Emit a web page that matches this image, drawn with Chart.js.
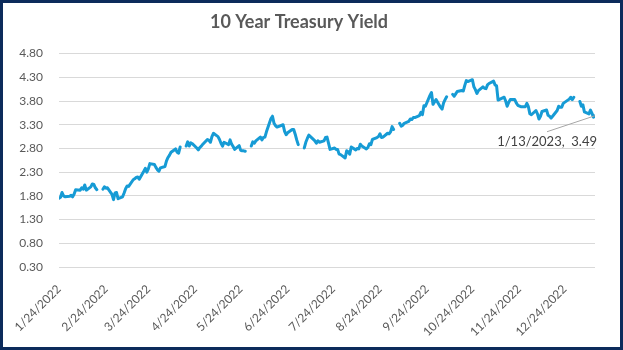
<!DOCTYPE html>
<html>
<head>
<meta charset="utf-8">
<title>10 Year Treasury Yield</title>
<script src="https://cdn.jsdelivr.net/npm/chart.js@4.4.1/dist/chart.umd.min.js"></script>
<style>
  body { margin: 0; background: #fff; }
  #frame { width: 623px; height: 350px; box-sizing: border-box; border: 3px solid #0c2b5b; background: #fff; }
  canvas { display: block; }
</style>
</head>
<body>
<div id="frame"><canvas id="yieldChart" width="617" height="344"></canvas></div>
<script>
const chartTitle = "10 Year Treasury Yield";

// one row per month: trading days and the closing 10y yield (null = market closed, leaves a gap)
const months = ["2022-01", "2022-02", "2022-03", "2022-04", "2022-05", "2022-06", "2022-07",
  "2022-08", "2022-09", "2022-10", "2022-11", "2022-12", "2023-01"];

const tradingDays = [
  [24, 25, 26, 27, 28, 31],
  [1, 2, 3, 4, 7, 8, 9, 10, 11, 14, 15, 16, 17, 18, 21, 22, 23, 24, 25, 28],
  [1, 2, 3, 4, 7, 8, 9, 10, 11, 14, 15, 16, 17, 18, 21, 22, 23, 24, 25, 28, 29, 30, 31],
  [1, 4, 5, 6, 7, 8, 11, 12, 13, 14, 15, 18, 19, 20, 21, 22, 25, 26, 27, 28, 29],
  [2, 3, 4, 5, 6, 9, 10, 11, 12, 13, 16, 17, 18, 19, 20, 23, 24, 25, 26, 27, 30, 31],
  [1, 2, 3, 6, 7, 8, 9, 10, 13, 14, 15, 16, 17, 21, 22, 23, 24, 27, 28, 29, 30],
  [1, 4, 5, 6, 7, 8, 11, 12, 13, 14, 15, 18, 19, 20, 21, 22, 25, 26, 27, 28, 29],
  [1, 2, 3, 4, 5, 8, 9, 10, 11, 12, 15, 16, 17, 18, 19, 22, 23, 24, 25, 26, 29, 30, 31],
  [1, 2, 5, 6, 7, 8, 9, 12, 13, 14, 15, 16, 19, 20, 21, 22, 23, 26, 27, 28, 29, 30],
  [3, 4, 5, 6, 7, 10, 11, 12, 13, 14, 17, 18, 19, 20, 21, 24, 25, 26, 27, 28, 31],
  [1, 2, 3, 4, 7, 8, 9, 10, 14, 15, 16, 17, 18, 21, 22, 23, 25, 28, 29, 30],
  [1, 2, 5, 6, 7, 8, 9, 12, 13, 14, 15, 16, 19, 20, 21, 22, 23, 27, 28, 29, 30],
  [2, 3, 4, 5, 6, 9, 10, 11, 12, 13]
];

const yields = [
  [1.75, 1.77, 1.87, 1.80, 1.78, 1.79],
  [1.81, 1.78, 1.84, 1.93, 1.92, 1.97, 1.94, 2.03, 1.92, 1.99, 2.05, 2.04, 1.97, 1.93, null, 1.94, 1.99, 1.96, 1.97, 1.83],
  [1.72, 1.86, 1.87, 1.74, 1.78, 1.86, 1.95, 2.01, 2.00, 2.14, 2.16, 2.19, 2.20, 2.15, 2.32, 2.38, 2.30, 2.37, 2.48, 2.46, 2.40, 2.35, 2.32],
  [2.39, 2.42, 2.54, 2.61, 2.66, 2.72, 2.79, 2.72, 2.70, 2.83, null, 2.85, 2.94, 2.85, 2.92, 2.90, 2.81, 2.77, 2.82, 2.85, 2.89],
  [2.99, 2.97, 2.93, 3.05, 3.12, 3.05, 2.99, 2.91, 2.85, 2.93, 2.88, 2.98, 2.89, 2.84, 2.78, 2.86, 2.76, 2.75, 2.75, 2.74, null, 2.85],
  [2.94, 2.91, 2.96, 3.04, 2.98, 3.03, 3.04, 3.15, 3.43, 3.48, 3.33, 3.28, 3.25, 3.30, 3.16, 3.09, 3.13, 3.20, 3.20, 3.10, 2.98],
  [2.88, null, 2.81, 2.93, 3.01, 3.08, 2.99, 2.96, 2.91, 2.96, 2.93, 2.96, 3.03, 3.04, 2.91, 2.78, 2.81, 2.78, 2.78, 2.68, 2.67],
  [2.60, 2.75, 2.73, 2.68, 2.83, 2.77, 2.80, 2.79, 2.89, 2.85, 2.79, 2.82, 2.90, 2.88, 2.99, 3.03, 3.05, 3.11, 3.03, 3.04, 3.12, 3.11, 3.15],
  [3.26, 3.20, null, 3.33, 3.27, 3.29, 3.33, 3.37, 3.42, 3.41, 3.45, 3.45, 3.49, 3.56, 3.51, 3.70, 3.69, 3.92, 3.98, 3.73, 3.78, 3.83],
  [3.67, 3.63, 3.76, 3.83, 3.89, null, 3.94, 3.90, 3.95, 4.00, 4.02, 4.01, 4.13, 4.23, 4.21, 4.25, 4.10, 4.04, 3.96, 4.02, 4.10],
  [4.07, 4.06, 4.14, 4.17, 4.22, 4.14, 4.12, 3.82, 3.88, 3.80, 3.69, 3.77, 3.83, 3.83, 3.76, 3.71, 3.68, 3.68, 3.75, 3.68],
  [3.53, 3.51, 3.60, 3.53, 3.42, 3.48, 3.58, 3.61, 3.50, 3.48, 3.44, 3.48, 3.60, 3.69, 3.67, 3.67, 3.75, 3.84, 3.88, 3.83, 3.88],
  [null, 3.79, 3.69, 3.72, 3.57, 3.53, 3.61, 3.54, 3.46, 3.49]
];

const xTickLabels = ["1/24/2022", "2/24/2022", "3/24/2022", "4/24/2022", "5/24/2022", "6/24/2022",
  "7/24/2022", "8/24/2022", "9/24/2022", "10/24/2022", "11/24/2022", "12/24/2022"];
const yTicks = [0.30, 0.80, 1.30, 1.80, 2.30, 2.80, 3.30, 3.80, 4.30, 4.80];

const dayNum = (y, m, d) => Date.UTC(y, m - 1, d) / 86400000;
const labelDay = s => { const [m, d, y] = s.split("/").map(Number); return dayNum(y, m, d); };

// flatten the month rows into {x: days since first session, y: yield}
const points = [];
let lastDate = "";
months.forEach((ym, i) => {
  const [y, m] = ym.split("-").map(Number);
  tradingDays[i].forEach((d, j) => {
    points.push({ day: dayNum(y, m, d), y: yields[i][j] });
    lastDate = m + "/" + d + "/" + y;
  });
});
const start = points[0].day;
points.forEach(p => { p.x = p.day - start; });
const lastYield = points[points.length - 1].y;

const textGray = "#595959";
Chart.defaults.font.family = "Lato";

// data label on the final session with a leader line
const lastPointLabel = {
  id: "lastPointLabel",
  afterDatasetsDraw(chart) {
    const meta = chart.getDatasetMeta(0);
    const pt = meta.data[meta.data.length - 1];
    const ctx = chart.ctx;
    ctx.save();
    ctx.strokeStyle = "#a6a6a6";
    ctx.lineWidth = 1;
    ctx.beginPath();
    ctx.moveTo(pt.x, pt.y);
    ctx.lineTo(pt.x - 48, pt.y + 16);
    ctx.stroke();
    ctx.font = "13px Lato";
    ctx.fillStyle = "#404040";
    ctx.textAlign = "right";
    ctx.textBaseline = "middle";
    ctx.fillText(lastDate + ",  " + lastYield.toFixed(2), pt.x + 2, pt.y + 26);
    ctx.restore();
  }
};

new Chart(document.getElementById("yieldChart"), {
  type: "line",
  data: {
    datasets: [{
      data: points,
      borderColor: "#169bd5",
      borderWidth: 3,
      borderJoinStyle: "round",
      borderCapStyle: "round",
      pointRadius: 0,
      tension: 0,
      spanGaps: false
    }]
  },
  options: {
    responsive: false,
    animation: false,
    layout: { padding: { top: 0, right: 25, bottom: 0, left: 0 } },
    plugins: {
      legend: { display: false },
      tooltip: { enabled: false },
      title: {
        display: true,
        text: chartTitle,
        color: textGray,
        font: { size: 18, weight: "bold" },
        padding: { top: 8, bottom: 21 }
      }
    },
    scales: {
      x: {
        type: "linear",
        min: 0,
        max: points[points.length - 1].x,
        afterBuildTicks: s => { s.ticks = xTickLabels.map(l => ({ value: labelDay(l) - start })); },
        afterFit: s => { s.height = 80; },
        grid: { display: false },
        border: { display: false },
        ticks: {
          autoSkip: false,
          minRotation: 45,
          maxRotation: 45,
          padding: 7,
          color: textGray,
          font: { size: 12 },
          callback: (v, i) => xTickLabels[i]
        }
      },
      y: {
        min: 0.3,
        max: 4.8,
        afterBuildTicks: s => { s.ticks = yTicks.map(v => ({ value: v })); },
        afterFit: s => { s.width = 56; },
        grid: { color: "#d9d9d9", drawTicks: false },
        border: { display: false },
        ticks: {
          padding: 16,
          color: textGray,
          font: { size: 12 },
          callback: v => v.toFixed(2)
        }
      }
    }
  },
  plugins: [lastPointLabel]
});
</script>
</body>
</html>
